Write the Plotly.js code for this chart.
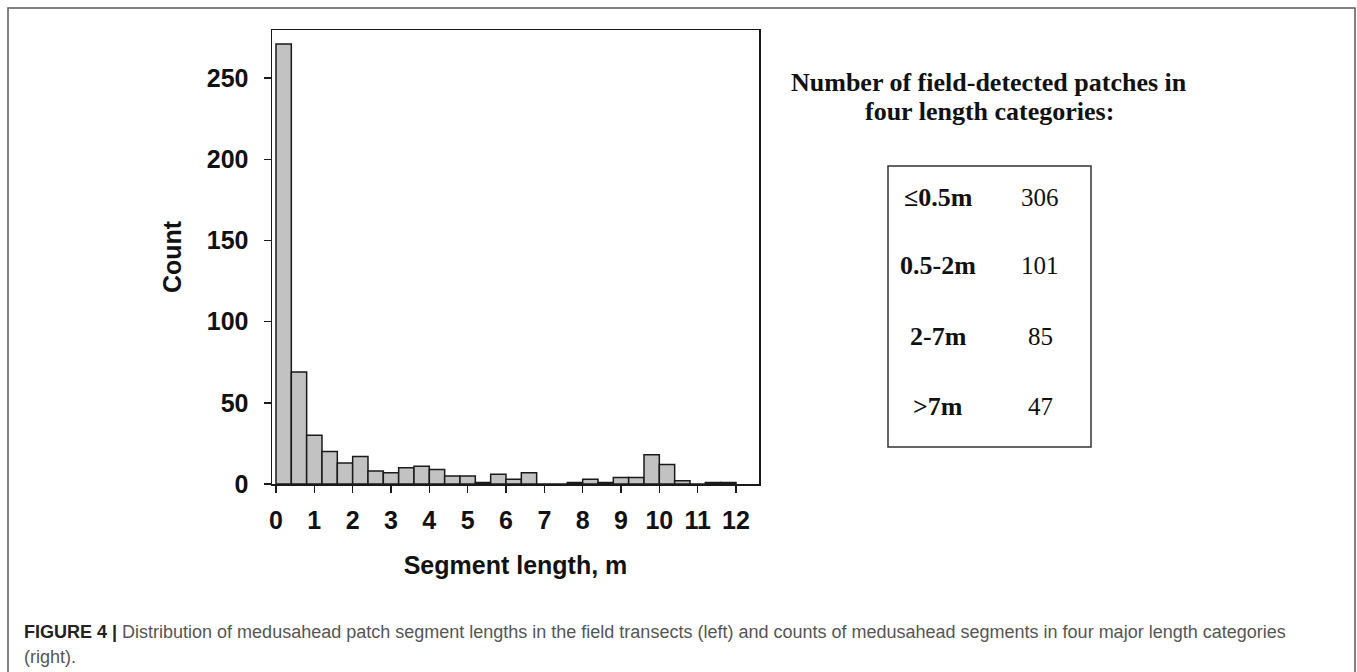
<!DOCTYPE html>
<html>
<head>
<meta charset="utf-8">
<script src="https://cdn.plot.ly/plotly-3.0.1.min.js"></script>
<style>
  html, body { margin: 0; padding: 0; background: #ffffff; }
  #chart { width: 1357px; height: 672px; }
</style>
</head>
<body>
<div id="chart"></div>
<script>
// Histogram of medusahead patch segment lengths (0.4 m bins)
const binCenters = [0.2, 0.6, 1.0, 1.4, 1.8, 2.2, 2.6, 3.0, 3.4, 3.8, 4.2, 4.6, 5.0, 5.4, 5.8,
                    6.2, 6.6, 7.0, 7.4, 7.8, 8.2, 8.6, 9.0, 9.4, 9.8, 10.2, 10.6, 11.0, 11.4, 11.8];
const binCounts  = [271, 69, 30, 20, 13, 17, 8, 7, 10, 11, 9, 5, 5, 1, 6,
                    3, 7, 0, 0, 1, 3, 1, 4, 4, 18, 12, 2, 0, 1, 1];
const binWidth = 0.4;

const xTickValues = [0, 1, 2, 3, 4, 5, 6, 7, 8, 9, 10, 11, 12];
const yTickValues = [0, 50, 100, 150, 200, 250];

// Counts of field-detected patches by length category
const categoryLabels = ["≤0.5m", "0.5-2m", "2-7m", ">7m"];
const categoryCounts = [306, 101, 85, 47];

const panelTitle = ["Number of field-detected patches in", "four length categories:"];
const captionLead = "FIGURE 4 |";
const captionLine1 = " Distribution of medusahead patch segment lengths in the field transects (left) and counts of medusahead segments in four major length categories";
const captionLine2 = "(right).";

// Page geometry (pixels) of the histogram frame
const W = 1357, H = 672;
const PL = 272, PR = 759, PT = 30, PB = 484;
const fx = p => (p - PL) / (PR - PL);   // pixel x -> paper x
const fy = p => (PB - p) / (PB - PT);   // pixel y -> paper y

const sans = "'Liberation Sans', Arial, sans-serif";
const serif = "'Liberation Serif', 'Times New Roman', serif";
const ink = "#1a1a1a";

const bars = {
  type: "bar",
  x: binCenters,
  y: binCounts,
  width: binWidth,
  marker: { color: "#c2c2c2", line: { color: ink, width: 1.5 } },
  hoverinfo: "x+y",
  showlegend: false
};

const annotations = [];
// right-panel heading
const titleRows = [82, 112];
panelTitle.forEach((t, i) => annotations.push({
  xref: "paper", yref: "paper", x: fx(989), y: fy(titleRows[i]),
  xanchor: "center", yanchor: "middle", showarrow: false, text: t,
  font: { family: serif, size: 26, color: "#111", weight: 700 }
}));
// table rows
const rowY = [197, 265, 336, 406];
categoryLabels.forEach((lab, i) => {
  annotations.push({
    xref: "paper", yref: "paper", x: fx(938), y: fy(rowY[i]),
    xanchor: "center", yanchor: "middle", showarrow: false, text: lab,
    font: { family: serif, size: 26, color: "#111", weight: 700 }
  });
  annotations.push({
    xref: "paper", yref: "paper", x: fx(1040), y: fy(rowY[i]),
    xanchor: "center", yanchor: "middle", showarrow: false, text: String(categoryCounts[i]),
    font: { family: serif, size: 25, color: "#111" }
  });
});
// caption
annotations.push({
  xref: "paper", yref: "paper", x: fx(22), y: fy(632),
  xanchor: "left", yanchor: "middle", showarrow: false, align: "left",
  text: "<b>" + captionLead + "</b><span style='color:#555'>" + captionLine1 + "</span>",
  font: { family: sans, size: 18, color: "#222" }
});
annotations.push({
  xref: "paper", yref: "paper", x: fx(22), y: fy(657),
  xanchor: "left", yanchor: "middle", showarrow: false, align: "left",
  text: captionLine2,
  font: { family: sans, size: 18, color: "#555" }
});

const shapes = [
  // outer figure border
  { type: "rect", xref: "paper", yref: "paper",
    x0: fx(8), x1: fx(1355), y0: fy(690), y1: fy(8),
    line: { color: "#5a5a5a", width: 1.5 } },
  // table box
  { type: "rect", xref: "paper", yref: "paper",
    x0: fx(888), x1: fx(1091), y0: fy(447), y1: fy(166),
    line: { color: "#333", width: 1.5 } }
];

const layout = {
  width: W, height: H,
  margin: { l: PL, r: W - PR, t: PT, b: H - PB, pad: 0 },
  paper_bgcolor: "#ffffff", plot_bgcolor: "#ffffff",
  bargap: 0,
  xaxis: {
    range: [-0.104, 12.6], tickvals: xTickValues, ticks: "outside", ticklen: 7,
    tickwidth: 1.5, tickcolor: ink, showline: true, mirror: true, linecolor: ink, linewidth: 1.5,
    showgrid: false, zeroline: false, ticklabelstandoff: 6,
    tickfont: { family: sans, size: 25, color: "#111", weight: 700 },
    title: { text: "Segment length, m", standoff: 24,
             font: { family: sans, size: 25, color: "#111", weight: 700 } }
  },
  yaxis: {
    range: [0, 279.6], tickvals: yTickValues, ticks: "outside", ticklen: 7,
    tickwidth: 1.5, tickcolor: ink, showline: true, mirror: true, linecolor: ink, linewidth: 1.5,
    showgrid: false, zeroline: false, ticklabelstandoff: 10,
    tickfont: { family: sans, size: 25, color: "#111", weight: 700 },
    title: { text: "Count", standoff: 18,
             font: { family: sans, size: 25, color: "#111", weight: 700 } }
  },
  annotations: annotations,
  shapes: shapes
};

Plotly.newPlot("chart", [bars], layout, { displayModeBar: false, staticPlot: true });
</script>
</body>
</html>
